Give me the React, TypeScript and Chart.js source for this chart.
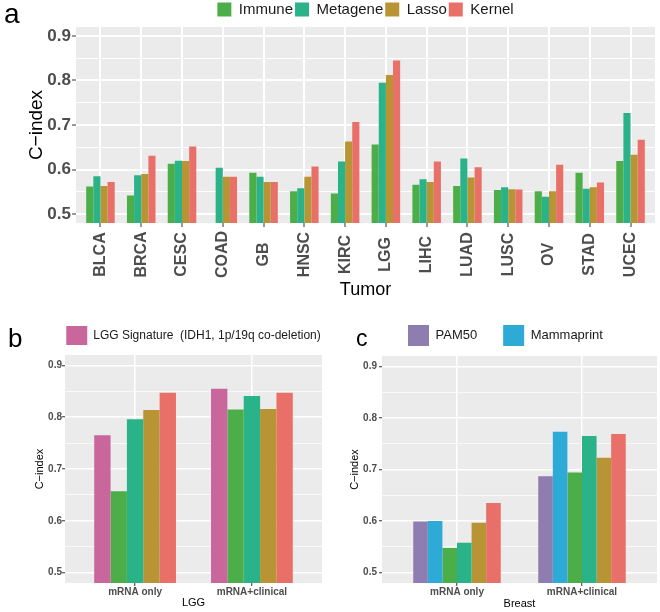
import React, { useEffect, useRef } from 'react';
import { Chart, registerables } from 'chart.js';

Chart.register(...registerables);

const FONT = '"Liberation Sans", Arial, Helvetica, sans-serif';

// ---------- Panel a: C-index per tumor ----------
const tumors = ['BLCA', 'BRCA', 'CESC', 'COAD', 'GB', 'HNSC', 'KIRC', 'LGG', 'LIHC', 'LUAD', 'LUSC', 'OV', 'STAD', 'UCEC'];
const immuneA = [0.562, 0.542, 0.613, null, 0.593, 0.551, 0.546, 0.656, 0.566, 0.563, 0.554, 0.551, 0.593, 0.619];
const metageneA = [0.585, 0.587, 0.620, 0.604, 0.584, 0.558, 0.618, 0.795, 0.578, 0.625, 0.560, 0.539, 0.557, 0.727];
const lassoA = [0.563, 0.590, 0.619, 0.584, 0.572, 0.584, 0.663, 0.812, 0.572, 0.582, 0.556, 0.551, 0.560, 0.633];
const kernelA = [0.572, 0.631, 0.652, 0.584, 0.572, 0.607, 0.707, 0.845, 0.618, 0.605, 0.555, 0.611, 0.571, 0.667];

// ---------- Panel b: LGG ----------
const lggSettings = ['mRNA only', 'mRNA+clinical'];
const lggSignature = [0.765, 0.855];
const lggImmune = [0.657, 0.815];
const lggMetagene = [0.796, 0.841];
const lggLasso = [0.814, 0.816];
const lggKernel = [0.847, 0.847];

// ---------- Panel c: Breast ----------
const breastSettings = ['mRNA only', 'mRNA+clinical'];
const brPam50 = [0.599, 0.687];
const brMammaprint = [0.600, 0.773];
const brImmune = [0.548, 0.694];
const brMetagene = [0.558, 0.765];
const brLasso = [0.597, 0.723];
const brKernel = [0.635, 0.769];

const COL = {
  immune: '#4CAE48',
  metagene: '#2AB289',
  lasso: '#B99434',
  kernel: '#E97068',
  lggSig: '#C9669B',
  pam50: '#8E7DB0',
  mammaprint: '#2EAAD6',
};

const isMajor = (v: number) => Math.abs(v * 10 - Math.round(v * 10)) < 1e-6;

const toPoints = (arr: (number | null)[]) =>
  arr.map((v, i) => ({ x: i, y: v })).filter((p) => p.y !== null);

const ds = (label: string, values: (number | null)[], color: string) => ({
  label,
  data: toPoints(values),
  backgroundColor: color,
  borderWidth: 0,
  categoryPercentage: 0.7,
  barPercentage: 1,
});

const panelBg = {
  id: 'panelBg',
  beforeDraw(chart: any) {
    const { ctx, chartArea } = chart;
    if (!chartArea) return;
    ctx.save();
    ctx.fillStyle = '#EBEBEB';
    ctx.fillRect(chartArea.left, chartArea.top, chartArea.right - chartArea.left, chartArea.bottom - chartArea.top);
    ctx.restore();
  },
};

// centre the rotated tick labels along their own length (like ggplot hjust = 0.5)
const centerRotatedLabels = (centerY: number) => ({
  id: 'centerRotatedLabels',
  beforeDraw(chart: any) {
    const sc = chart.scales.x;
    if (!sc || typeof sc.getLabelItems !== 'function') return;
    const items = sc.getLabelItems(chart.chartArea);
    for (const it of items) {
      it.options.textAlign = 'center';
      it.options.translation = [it.options.translation[0], centerY];
    }
  },
});

function xAxis(o: any) {
  return {
    type: 'linear',
    min: -0.6,
    max: o.labels.length - 0.4,
    offset: false,
    ticks: {
      stepSize: 1,
      includeBounds: false,
      autoSkip: false,
      minRotation: o.rotation,
      maxRotation: o.rotation,
      padding: o.tickPad,
      color: '#4D4D4D',
      font: { family: FONT, size: o.tickSize, weight: 'bold' },
      callback: (v: number) => o.labels[Math.round(v)] ?? '',
    },
    grid: {
      offset: false,
      color: '#FFFFFF',
      lineWidth: o.gridW,
      drawTicks: true,
      tickLength: o.tickLen,
      tickWidth: 1,
      tickColor: '#333333',
    },
    border: { display: false },
    title: {
      display: true,
      text: o.title,
      color: '#000000',
      font: { family: FONT, size: o.titleSize },
      padding: { top: 0, bottom: o.titlePadBottom },
    },
    afterFit: (s: any) => {
      s.height = o.height;
    },
  };
}

function yAxis(o: any) {
  return {
    type: 'linear',
    min: 0.48,
    max: 0.92,
    beginAtZero: false,
    ticks: {
      stepSize: 0.05,
      includeBounds: false,
      autoSkip: false,
      padding: o.tickPad,
      color: '#4D4D4D',
      font: { family: FONT, size: o.tickSize, weight: 'bold' },
      callback: (v: number) => (isMajor(v) ? v.toFixed(1) : ''),
    },
    grid: {
      color: '#FFFFFF',
      lineWidth: (c: any) => (c.tick && !isMajor(c.tick.value) ? o.minorW : o.majorW),
      drawTicks: true,
      tickLength: o.tickLen,
      tickWidth: 1,
      tickColor: (c: any) => (c.tick && !isMajor(c.tick.value) ? 'rgba(0,0,0,0)' : '#333333'),
    },
    border: { display: false },
    title: {
      display: true,
      text: 'C\u2212index',
      color: '#000000',
      font: { family: FONT, size: o.titleSize },
      padding: { top: o.titlePadTop, bottom: 0 },
    },
    afterFit: (s: any) => {
      s.width = o.width;
    },
  };
}

function configA(): any {
  return {
    type: 'bar',
    data: {
      datasets: [
        ds('Immune', immuneA, COL.immune),
        ds('Metagene', metageneA, COL.metagene),
        ds('Lasso', lassoA, COL.lasso),
        ds('Kernel', kernelA, COL.kernel),
      ],
    },
    options: {
      responsive: false,
      animation: false,
      layout: { padding: { top: 0, right: 5, bottom: 0, left: 0 } },
      plugins: {
        legend: {
          display: true,
          position: 'top',
          fullSize: false,
          align: 'center',
          labels: { font: { family: FONT, size: 15 }, color: '#1A1A1A', boxWidth: 14, boxHeight: 14, padding: 2 },
        },
        tooltip: { enabled: false },
      },
      scales: {
        x: xAxis({ labels: tumors, title: 'Tumor', tickSize: 16, rotation: 90, tickLen: 4, tickPad: 3, titleSize: 18, titlePadBottom: 4, height: 82, gridW: 2 }),
        y: yAxis({ tickSize: 17, tickPad: 1, tickLen: 4, titleSize: 19, titlePadTop: 25, width: 76, majorW: 2, minorW: 1 }),
      },
    },
    plugins: [panelBg, centerRotatedLabels(254.5)],
  };
}

function configB(): any {
  return {
    type: 'bar',
    data: {
      datasets: [
        ds('LGG Signature  (IDH1, 1p/19q co-deletion)', lggSignature, COL.lggSig),
        ds('Immune', lggImmune, COL.immune),
        ds('Metagene', lggMetagene, COL.metagene),
        ds('Lasso', lggLasso, COL.lasso),
        ds('Kernel', lggKernel, COL.kernel),
      ],
    },
    options: {
      responsive: false,
      animation: false,
      layout: { padding: { top: 1, right: 8, bottom: 0, left: 0 } },
      plugins: {
        legend: {
          display: true,
          position: 'top',
          fullSize: false,
          align: 'center',
          labels: {
            font: { family: FONT, size: 12 },
            color: '#1A1A1A',
            boxWidth: 21,
            boxHeight: 19,
            padding: 6,
            filter: (item: any) => item.datasetIndex < 1,
          },
        },
        tooltip: { enabled: false },
      },
      scales: {
        x: xAxis({ labels: lggSettings, title: 'LGG', tickSize: 10, rotation: 0, tickLen: 3, tickPad: 0, titleSize: 11, titlePadBottom: 2, height: 29, gridW: 1.5 }),
        y: yAxis({ tickSize: 10, tickPad: 0, tickLen: 3, titleSize: 11, titlePadTop: 33, width: 65, majorW: 1.5, minorW: 0.7 }),
      },
    },
    plugins: [panelBg],
  };
}

function configC(): any {
  return {
    type: 'bar',
    data: {
      datasets: [
        ds('PAM50', brPam50, COL.pam50),
        ds('Mammaprint', brMammaprint, COL.mammaprint),
        ds('Immune', brImmune, COL.immune),
        ds('Metagene', brMetagene, COL.metagene),
        ds('Lasso', brLasso, COL.lasso),
        ds('Kernel', brKernel, COL.kernel),
      ],
    },
    options: {
      responsive: false,
      animation: false,
      layout: { padding: { top: 0, right: 3, bottom: 0, left: 0 } },
      plugins: {
        legend: {
          display: true,
          position: 'top',
          fullSize: false,
          align: 'start',
          labels: {
            font: { family: FONT, size: 13 },
            color: '#1A1A1A',
            boxWidth: 21,
            boxHeight: 21,
            padding: 26,
            filter: (item: any) => item.datasetIndex < 2,
          },
        },
        tooltip: { enabled: false },
      },
      scales: {
        x: xAxis({ labels: breastSettings, title: 'Breast', tickSize: 10, rotation: 0, tickLen: 3, tickPad: 0, titleSize: 11, titlePadBottom: 1, height: 29, gridW: 1.5 }),
        y: yAxis({ tickSize: 10, tickPad: 2, tickLen: 3, titleSize: 11, titlePadTop: 18, width: 52, majorW: 1.5, minorW: 0.7 }),
      },
    },
    plugins: [panelBg],
  };
}

const letterStyle = (left: number, top: number, size: number): React.CSSProperties => ({
  position: 'absolute',
  left,
  top,
  fontSize: size,
  lineHeight: 1,
  fontFamily: FONT,
  color: '#000',
});

export default function App() {
  const aRef = useRef<HTMLCanvasElement>(null);
  const bRef = useRef<HTMLCanvasElement>(null);
  const cRef = useRef<HTMLCanvasElement>(null);

  useEffect(() => {
    const charts: Chart[] = [];
    if (aRef.current) charts.push(new Chart(aRef.current, configA()));
    if (bRef.current) charts.push(new Chart(bRef.current, configB()));
    if (cRef.current) charts.push(new Chart(cRef.current, configC()));
    return () => charts.forEach((c) => c.destroy());
  }, []);

  return (
    <div style={{ position: 'absolute', left: 0, top: 0, width: 660, height: 612, background: '#fff', overflow: 'hidden' }}>
      <canvas ref={aRef} width={660} height={305} style={{ position: 'absolute', left: 0, top: 0 }} />
      <canvas ref={bRef} width={330} height={293} style={{ position: 'absolute', left: 0, top: 319 }} />
      <canvas ref={cRef} width={330} height={313} style={{ position: 'absolute', left: 330, top: 299 }} />
      <div style={letterStyle(4, 0, 28)}>a</div>
      <div style={letterStyle(8, 325, 26)}>b</div>
      <div style={letterStyle(356, 327, 23)}>c</div>
    </div>
  );
}
